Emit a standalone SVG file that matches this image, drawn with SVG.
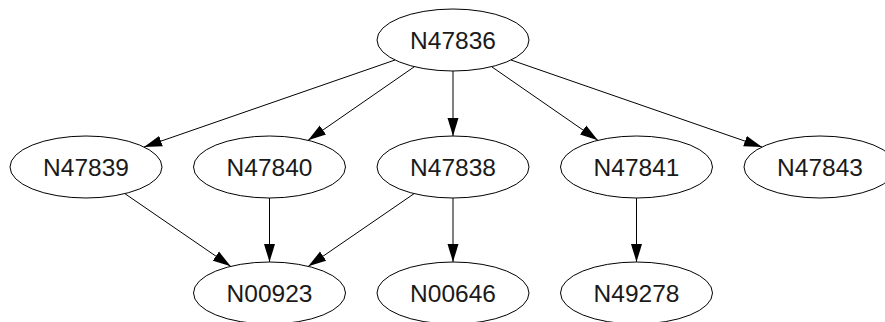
<svg xmlns="http://www.w3.org/2000/svg" width="885" height="322" viewBox="0 0 885 322">
<defs>
<style>
.node ellipse{fill:#fff;stroke:#000;stroke-width:1}
.node text{font-family:"Liberation Sans",Arial,sans-serif;font-size:24.5px;fill:#1a1a1a;text-anchor:middle}
.edge{stroke:#000;stroke-width:1;fill:none;marker-end:url(#arrow)}
</style>
<marker id="arrow" markerUnits="userSpaceOnUse" markerWidth="19" markerHeight="12" refX="18" refY="6" orient="auto">
<path d="M0,0.5 L18,6 L0,11.5 Z" fill="#000"/>
</marker>
</defs>
<rect width="885" height="322" fill="#fff"/>
<g id="edges">
<line class="edge" x1="395" y1="60" x2="144" y2="147"/>
<line class="edge" x1="414.4" y1="66.7" x2="308.1" y2="140.3"/>
<line class="edge" x1="453" y1="71" x2="453" y2="136"/>
<line class="edge" x1="491.6" y1="66.7" x2="597.9" y2="140.3"/>
<line class="edge" x1="511" y1="60" x2="762" y2="147"/>
<line class="edge" x1="124.8" y1="193.6" x2="230.7" y2="266.3"/>
<line class="edge" x1="269.5" y1="198" x2="269.5" y2="262"/>
<line class="edge" x1="414.2" y1="193.6" x2="308.3" y2="266.3"/>
<line class="edge" x1="453" y1="198" x2="453" y2="262"/>
<line class="edge" x1="636.5" y1="198" x2="636.5" y2="262"/>
</g>
<g id="N47836" class="node"><ellipse cx="453" cy="40" rx="76" ry="31"/><text x="453" y="48.5">N47836</text></g>
<g id="N47839" class="node"><ellipse cx="86" cy="167" rx="76" ry="31"/><text x="86" y="175.5">N47839</text></g>
<g id="N47840" class="node"><ellipse cx="269.5" cy="167" rx="76" ry="31"/><text x="269.5" y="175.5">N47840</text></g>
<g id="N47838" class="node"><ellipse cx="453" cy="167" rx="76" ry="31"/><text x="453" y="175.5">N47838</text></g>
<g id="N47841" class="node"><ellipse cx="636.5" cy="167" rx="76" ry="31"/><text x="636.5" y="175.5">N47841</text></g>
<g id="N47843" class="node"><ellipse cx="820" cy="167" rx="76" ry="31"/><text x="820" y="175.5">N47843</text></g>
<g id="N00923" class="node"><ellipse cx="269.5" cy="293" rx="76" ry="31"/><text x="269.5" y="301.5">N00923</text></g>
<g id="N00646" class="node"><ellipse cx="453" cy="293" rx="76" ry="31"/><text x="453" y="301.5">N00646</text></g>
<g id="N49278" class="node"><ellipse cx="636.5" cy="293" rx="76" ry="31"/><text x="636.5" y="301.5">N49278</text></g>
</svg>
